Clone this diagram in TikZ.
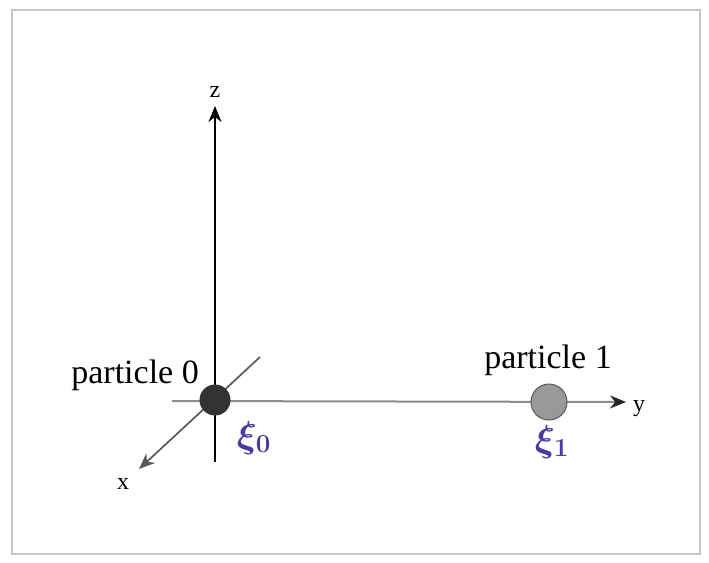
\documentclass[tikz,border=0pt]{standalone}
\usepackage{fontspec}
\usepackage{graphicx}
\setmainfont{Liberation Serif}
\usetikzlibrary{arrows.meta}
\definecolor{hand}{HTML}{4A3AA0}
\begin{document}
\begin{tikzpicture}[x=1pt,y=-1pt,
  axis/.style={line width=2.2pt,-{Stealth[length=16pt,width=13pt]}},
  lbl/.style={font=\fontsize{34}{36}\selectfont,inner sep=0pt},
  axlbl/.style={font=\fontsize{24}{26}\selectfont,inner sep=0pt},
  hw/.style={text=hand,font=\fontsize{24}{26}\selectfont\boldmath,inner sep=0pt}]
\useasboundingbox (0,0) rectangle (709,562);
\draw[black!22,line width=1.2pt] (12,10) rectangle (700,554);
% axes
\coordinate (zb) at (215,462);
\coordinate (zt) at (215,106);
\coordinate (yl) at (172,401);
\coordinate (yt) at (626,402);
\coordinate (xu) at (260,357);
\coordinate (xt) at (139,469);
\draw[axis,black] (zb) -- (zt);
\draw[axis,black!45,line width=2pt,-{Stealth[length=16pt,width=13pt,color=black!85]}] (yl) -- (yt);
\draw[axis,black!65,line width=1.7pt] (xu) -- (xt);
\node[axlbl] (zl) at (215,92) {z};
\node[axlbl] (ylab) at (639,409) {y};
\node[axlbl] (xlab) at (123,484) {x};
% particles
\node[circle,fill=black!80,minimum size=31pt,inner sep=0pt] (p0) at (215,400) {};
\node[circle,fill=black!40,draw=black!65,line width=1pt,minimum size=36pt,inner sep=0pt] (p1) at (549,402) {};
\node[lbl,anchor=base east] (t0) at (199,383) {particle 0};
\node[lbl,anchor=base] (t1) at (548,368) {particle 1};
\node[hw] (g0) at (254,438) {\scalebox{1.5}{$\xi_0$}};
\node[hw] (g1) at (552,442) {\scalebox{1.5}{$\xi_1$}};
\end{tikzpicture}
\end{document}
